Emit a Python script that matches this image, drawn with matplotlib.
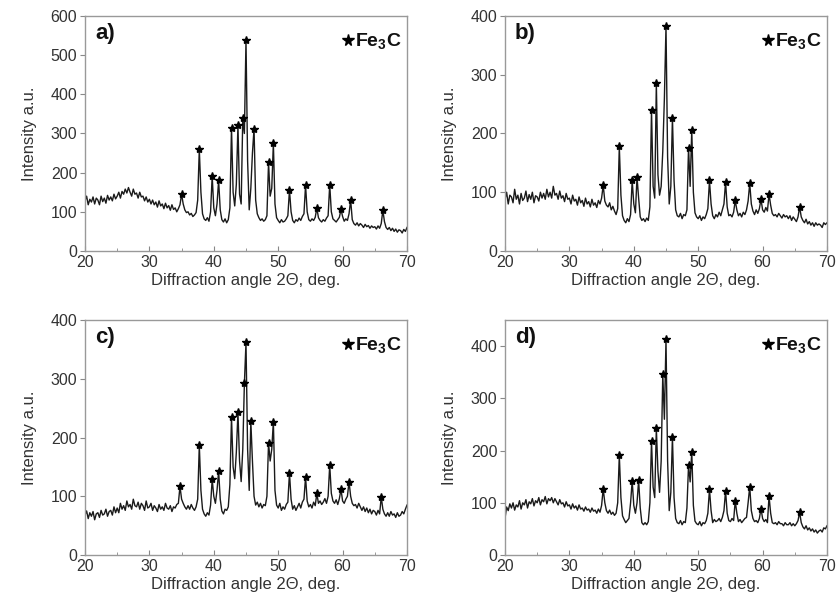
import matplotlib
matplotlib.use('Agg')
import matplotlib.pyplot as plt
import numpy as np

plt.rcParams['font.family'] = ['Liberation Sans', 'DejaVu Sans']
plt.rcParams['mathtext.fontset'] = 'custom'
plt.rcParams['mathtext.bf'] = 'Liberation Sans:bold'
plt.rcParams['mathtext.rm'] = 'Liberation Sans'

# scan grid, 20..70 deg in 0.25 deg steps
two_theta = 20 + 0.25 * np.arange(201)

# intensities, one row per degree
intensity_a = [
    128, 140, 118, 132, 125, 138, 120, 135, 130, 118, 140, 126, 135, 122, 142, 130,  # 20-23
    138, 128, 145, 133, 140, 150, 135, 152, 145, 158, 148, 162, 150, 140, 158, 145,  # 24-27
    148, 135, 150, 138, 140, 128, 138, 125, 132, 120, 130, 118, 125, 112, 128, 115,  # 28-31
    120, 108, 122, 110, 116, 104, 118, 106, 110, 100, 108, 118, 145, 120, 105, 98,   # 32-35
    100, 92, 96, 88, 92, 98, 130, 260, 150, 95, 82, 78, 85, 76, 100, 191,            # 36-39
    110, 90, 120, 180, 105, 80, 74, 82, 72, 80, 110, 315, 150, 115, 170, 322,        # 40-43
    145, 120, 340, 300, 539, 230, 105, 160, 250, 312, 130, 95, 85, 78, 82, 76,       # 44-47
    80, 90, 226, 140, 160, 275, 120, 85, 78, 72, 80, 74, 76, 82, 90, 156,            # 48-51
    100, 78, 72, 80, 76, 84, 78, 88, 95, 168, 100, 80, 76, 82, 78, 86,               # 52-55
    110, 85, 78, 74, 80, 76, 84, 90, 169, 100, 82, 78, 74, 80, 86, 106,              # 56-59
    88, 76, 82, 78, 95, 130, 80, 70, 66, 72, 64, 70, 66, 60, 68, 62,                 # 60-63
    65, 58, 64, 60, 62, 56, 64, 58, 70, 104, 75, 60, 55, 60, 52, 58,                 # 64-67
    50, 56, 48, 54, 52, 46, 55, 50, 60,                                              # 68-70
]
intensity_b = [
    88, 100, 80, 95, 92, 82, 105, 88, 95, 80, 98, 86, 90, 102, 84, 96,
    88, 100, 82, 94, 92, 85, 100, 90, 98, 88, 105, 92, 100, 90, 110, 95,
    98, 88, 102, 90, 94, 84, 98, 88, 90, 80, 95, 85, 88, 78, 92, 82,
    86, 76, 90, 80, 84, 75, 88, 78, 82, 74, 86, 80, 90, 112, 85, 78,
    75, 82, 70, 76, 68, 62, 72, 178, 95, 60, 52, 48, 55, 50, 62, 120,
    80, 65, 126, 90, 58, 52, 55, 50, 56, 52, 75, 240, 110, 90, 286, 130,
    95, 110, 170, 260, 383, 160, 80, 110, 227, 120, 70, 60, 58, 64, 55, 62,
    60, 70, 176, 110, 206, 100, 65, 58, 55, 60, 52, 58, 55, 62, 72, 120,
    80, 60, 55, 62, 58, 66, 60, 70, 80, 118, 75, 60, 62, 58, 66, 86,
    70, 60, 64, 58, 66, 62, 70, 85, 115, 80, 68, 62, 70, 64, 72, 88,
    70, 66, 74, 68, 97, 78, 64, 60, 62, 58, 64, 60, 56, 62, 58, 60,
    55, 60, 52, 58, 54, 50, 58, 75, 58, 52, 48, 54, 46, 50, 44, 48,
    42, 48, 44, 46, 44, 40, 48, 45, 48,
]
intensity_c = [
    68, 75, 62, 72, 66, 74, 60, 70, 72, 64, 76, 68, 70, 78, 66, 74,
    76, 68, 82, 72, 80, 72, 88, 78, 84, 76, 92, 82, 86, 78, 95, 84,
    82, 90, 78, 88, 84, 76, 92, 80, 82, 88, 76, 84, 80, 74, 86, 78,
    82, 76, 88, 80, 78, 84, 74, 82, 80, 86, 88, 117, 95, 88, 82, 78,
    84, 78, 86, 80, 76, 82, 95, 187, 110, 78, 70, 66, 72, 68, 85, 129,
    100, 88, 110, 143, 95, 75, 70, 78, 76, 82, 120, 235, 150, 130, 175, 243,
    160, 125, 180, 292, 362, 180, 110, 228, 160, 100, 85, 90, 82, 88, 80, 86,
    84, 100, 191, 160, 180, 227, 110, 85, 80, 88, 76, 82, 78, 86, 90, 140,
    95, 78, 84, 76, 82, 88, 80, 90, 95, 133, 92, 82, 86, 80, 90, 84,
    105, 88, 92, 86, 90, 96, 88, 100, 153, 105, 92, 88, 94, 86, 96, 112,
    92, 88, 95, 100, 125, 100, 88, 84, 86, 80, 88, 82, 76, 82, 74, 80,
    72, 78, 70, 76, 74, 68, 76, 70, 99, 78, 70, 66, 72, 66, 74, 68,
    70, 64, 72, 66, 68, 74, 70, 78, 85,
]
intensity_d = [
    70, 92, 85, 98, 90, 100, 86, 96, 92, 104, 88, 100, 96, 106, 90, 102,
    98, 108, 94, 104, 100, 110, 96, 106, 102, 112, 98, 108, 104, 110, 100, 108,
    102, 96, 106, 98, 100, 92, 102, 94, 96, 88, 98, 90, 94, 86, 96, 88,
    90, 84, 92, 86, 88, 82, 90, 84, 86, 80, 88, 82, 95, 127, 100, 85,
    80, 86, 78, 82, 76, 80, 100, 191, 110, 75, 68, 62, 66, 70, 100, 142,
    95, 80, 100, 143, 90, 62, 58, 62, 58, 64, 100, 218, 130, 110, 243, 160,
    120, 180, 346, 260, 413, 180, 85, 120, 226, 110, 70, 62, 60, 66, 58, 64,
    62, 90, 172, 140, 198, 95, 65, 60, 58, 64, 56, 62, 60, 66, 80, 126,
    85, 62, 68, 64, 66, 70, 64, 72, 85, 123, 80, 66, 64, 70, 66, 104,
    80, 64, 68, 62, 66, 70, 72, 100, 131, 85, 70, 64, 66, 62, 70, 89,
    70, 64, 68, 62, 113, 80, 62, 60, 62, 58, 64, 60, 60, 56, 62, 58,
    58, 62, 56, 60, 56, 60, 66, 82, 62, 54, 50, 56, 48, 52, 46, 50,
    44, 48, 42, 46, 48, 44, 52, 50, 56,
]

# Fe3C reflections marked with stars
stars_a_x = [35.0, 37.75, 39.75, 40.75, 42.75, 43.75, 44.5, 45.0, 46.25, 48.5, 49.25, 51.75, 54.25, 56.0, 58.0, 59.75, 61.25, 66.25]
stars_a_y = [145, 260, 191, 180, 315, 322, 340, 539, 312, 226, 275, 156, 168, 110, 169, 106, 130, 104]
stars_b_x = [35.25, 37.75, 39.75, 40.5, 42.75, 43.5, 45.0, 46.0, 48.5, 49.0, 51.75, 54.25, 55.75, 58.0, 59.75, 61.0, 65.75]
stars_b_y = [112, 178, 120, 126, 240, 286, 383, 227, 176, 206, 120, 118, 86, 115, 88, 97, 75]
stars_c_x = [34.75, 37.75, 39.75, 40.75, 42.75, 43.75, 44.75, 45.0, 45.75, 48.5, 49.25, 51.75, 54.25, 56.0, 58.0, 59.75, 61.0, 66.0]
stars_c_y = [117, 187, 129, 143, 235, 243, 292, 362, 228, 191, 227, 140, 133, 105, 153, 112, 125, 99]
stars_d_x = [35.25, 37.75, 39.75, 40.75, 42.75, 43.5, 44.5, 45.0, 46.0, 48.5, 49.0, 51.75, 54.25, 55.75, 58.0, 59.75, 61.0, 65.75]
stars_d_y = [127, 191, 142, 143, 218, 243, 346, 413, 226, 172, 198, 126, 123, 104, 131, 89, 113, 82]

panels = [
    ('a)', intensity_a, stars_a_x, stars_a_y, 600, [0, 100, 200, 300, 400, 500, 600]),
    ('b)', intensity_b, stars_b_x, stars_b_y, 400, [0, 100, 200, 300, 400]),
    ('c)', intensity_c, stars_c_x, stars_c_y, 400, [0, 100, 200, 300, 400]),
    ('d)', intensity_d, stars_d_x, stars_d_y, 450, [0, 100, 200, 300, 400]),
]
positions = [
    [0.1013, 0.5899, 0.3838, 0.3840],
    [0.6019, 0.5899, 0.3838, 0.3840],
    [0.1013, 0.0931, 0.3838, 0.3840],
    [0.6019, 0.0931, 0.3838, 0.3840],
]

fig = plt.figure(figsize=(8.39, 6.12), dpi=100)

for (label, y, sx, sy, ymax, yticks), pos in zip(panels, positions):
    ax = fig.add_axes(pos)
    ax.plot(two_theta, y, color='#1a1a1a', lw=1.0)
    ax.plot(sx, sy, ls='none', marker='*', ms=6, color='black')

    ax.set_xlim(20, 70)
    ax.set_ylim(0, ymax)
    ax.set_xticks([20, 30, 40, 50, 60, 70])
    ax.set_xticks([25, 35, 45, 55, 65], minor=True)
    ax.set_yticks(yticks)
    ax.tick_params(axis='x', which='both', direction='in', colors='#888888',
                   labelcolor='#333333', labelsize=11.5, pad=3)
    ax.tick_params(axis='x', which='major', length=3.5)
    ax.tick_params(axis='x', which='minor', length=2)
    ax.tick_params(axis='y', direction='out', length=3.5, colors='#888888',
                   labelcolor='#333333', labelsize=11.5, pad=2)
    for sp in ax.spines.values():
        sp.set_color('#999999')
        sp.set_linewidth(1.0)

    ax.set_xlabel('Diffraction angle 2\u0398, deg.', fontsize=12, color='#333333', labelpad=2)
    ax.set_ylabel('Intensity a.u.', fontsize=12, color='#333333', labelpad=10)

    ax.text(0.031, 0.925, label, transform=ax.transAxes, fontsize=16,
            fontweight='bold', ha='left', va='center', color='#111111')
    ax.plot([0.817], [0.898], transform=ax.transAxes, marker='*', ms=8.5,
            color='black', ls='none')
    ax.text(0.840, 0.893, r'$\mathbf{Fe_3C}$', transform=ax.transAxes,
            fontsize=14, ha='left', va='center', color='#111111')

fig.savefig('out.png', dpi=100)
